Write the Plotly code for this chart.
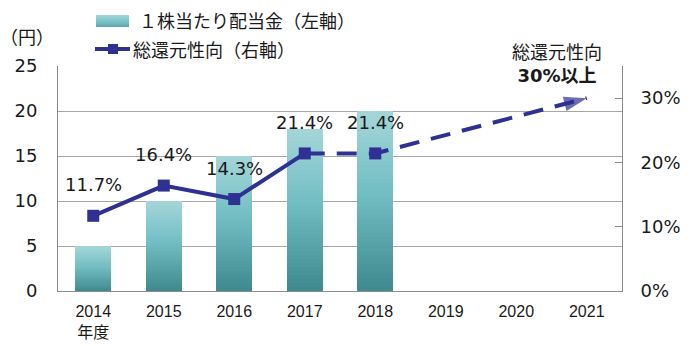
import plotly.graph_objects as go

# ---------------- data ----------------
years = ['2014', '2015', '2016', '2017', '2018', '2019', '2020', '2021']
year_ticktext = ['2014<br>年度', '2015', '2016', '2017', '2018', '2019', '2020', '2021']
dividend = [5, 10, 15, 18, 20, None, None, None]          # 円 (left axis)
payout_years = ['2014', '2015', '2016', '2017', '2018']
payout = [11.7, 16.4, 14.3, 21.4, 21.4]                  # % (right axis)
payout_labels = ['11.7%', '16.4%', '14.3%', '21.4%', '21.4%']
target_year = '2021'
target_payout = 30
left_ticks = [0, 5, 10, 15, 20, 25]
right_ticks = [0, 10, 20, 30]
right_ticktext = ['0%', '10%', '20%', '30%']

# ---------------- style ----------------
LINE_C = '#2e3192'
GRID_C = '#a6a6a6'
AXIS_C = '#8c8c8c'
JP = 'Noto Sans CJK JP'
NUMF = 'DejaVu Sans, Noto Sans CJK JP'

def lerp(c1, c2, t):
    a = [int(c1[i:i + 2], 16) for i in (1, 3, 5)]
    b = [int(c2[i:i + 2], 16) for i in (1, 3, 5)]
    return 'rgb(%d,%d,%d)' % tuple(round(a[j] + (b[j] - a[j]) * t) for j in range(3))

BOT, MID, TOP = '#3d898d', '#72bec3', '#a4d6d9'

def grad(t):
    if t < 0.55:
        return lerp(BOT, MID, t / 0.55)
    return lerp(MID, TOP, (t - 0.55) / 0.45)

fig = go.Figure()

# gradient bars: stacked slices of each bar's own value
N = 40
for k in range(N):
    fig.add_trace(go.Bar(
        x=years,
        y=[(v / N) if v is not None else None for v in dividend],
        marker=dict(color=grad((k + 0.5) / N), line=dict(width=0)),
        yaxis='y', showlegend=False, hoverinfo='skip'))

# actual payout line (solid)
fig.add_trace(go.Scatter(
    x=payout_years[:4], y=payout[:4], yaxis='y2', mode='lines',
    line=dict(color=LINE_C, width=4), showlegend=False, hoverinfo='skip'))

# dashed trend: 2017 -> 2018 -> target
fig.add_trace(go.Scatter(
    x=payout_years[3:] + [target_year], y=payout[3:] + [target_payout], yaxis='y2',
    mode='lines', line=dict(color=LINE_C, width=4, dash='20px,12px'),
    showlegend=False, hoverinfo='skip'))

# markers
fig.add_trace(go.Scatter(
    x=payout_years, y=payout, yaxis='y2', mode='markers',
    marker=dict(symbol='square', size=12, color=LINE_C),
    showlegend=False, hoverinfo='skip'))

# arrow head
fig.add_trace(go.Scatter(
    x=[payout_years[-1], target_year], y=[payout[-1], target_payout], yaxis='y2',
    mode='markers',
    marker=dict(symbol='arrow', size=[0, 24], color=LINE_C, angleref='previous',
                line=dict(width=0)),
    showlegend=False, hoverinfo='skip'))

annotations = []
for yr, v, lab in zip(payout_years, payout, payout_labels):
    annotations.append(dict(x=years.index(yr), y=v, xref='x', yref='y2', text=lab,
                            showarrow=False, yshift=31,
                            font=dict(family=NUMF, size=18, color='#1a1a1a')))

# pixel -> paper helpers (plot area 58..622 x 66..291)
L, R, T, B = 58, 622, 66, 291
def px(x):
    return (x - L) / (R - L)
def py(y):
    return (B - y) / (B - T)

annotations += [
    dict(x=px(27), y=py(36), xref='paper', yref='paper', xanchor='center', yanchor='middle',
         text='（円）', showarrow=False, font=dict(family=JP, size=18, color='#1a1a1a')),
    dict(x=px(137), y=py(20), xref='paper', yref='paper', xanchor='left', yanchor='middle',
         text='１株当たり配当金（左軸）',
         showarrow=False, font=dict(family=JP, size=18, color='#1a1a1a')),
    dict(x=px(131), y=py(49), xref='paper', yref='paper', xanchor='left', yanchor='middle',
         text='総還元性向（右軸）',
         showarrow=False, font=dict(family=JP, size=18, color='#1a1a1a')),
    dict(x=px(557), y=py(63.5), xref='paper', yref='paper', xanchor='center', yanchor='middle',
         text='総還元性向<br><b>30%以上</b>',
         showarrow=False, bgcolor='white', width=116, borderpad=2,
         font=dict(family=NUMF, size=18, color='#1a1a1a')),
]

shapes = []
# legend swatch with gradient stripes
S = 12
for k in range(S):
    y0 = 27 - (27 - 15) * k / S
    y1 = 27 - (27 - 15) * (k + 1) / S
    shapes.append(dict(type='rect', xref='paper', yref='paper', x0=px(96), x1=px(129),
                       y0=py(y0), y1=py(y1), fillcolor=grad(0.3 + 0.7 * (k + 0.5) / S),
                       line=dict(width=0), layer='above'))
shapes.append(dict(type='line', xref='paper', yref='paper', x0=px(95), x1=px(130),
                   y0=py(49), y1=py(49), line=dict(color=LINE_C, width=4)))
shapes.append(dict(type='rect', xref='paper', yref='paper', x0=px(108), x1=px(118),
                   y0=py(54), y1=py(44), fillcolor=LINE_C, line=dict(width=0)))

fig.update_layout(
    width=697, height=346, autosize=False,
    margin=dict(l=L, r=697 - R, t=T, b=346 - B),
    paper_bgcolor='white', plot_bgcolor='white',
    barmode='stack', bargap=0.49,
    showlegend=False, hovermode=False,
    annotations=annotations, shapes=shapes,
    xaxis=dict(type='category', categoryorder='array', categoryarray=years,
               range=[-0.5, len(years) - 0.5], automargin=False,
               tickvals=years, ticktext=year_ticktext,
               tickfont=dict(family='Liberation Sans, ' + JP, size=16, color='#1a1a1a'),
               showline=True, linecolor=AXIS_C, linewidth=1, ticks='', ticklabelstandoff=6,
               showgrid=False, zeroline=False),
    yaxis=dict(range=[0, 25], tickvals=left_ticks, showgrid=True, gridcolor=GRID_C, gridwidth=1,
               showline=True, linecolor=AXIS_C, linewidth=1, ticks='', zeroline=False,
               automargin=False,
               tickfont=dict(family=NUMF, size=18, color='#1a1a1a'), ticklabelstandoff=16),
    yaxis2=dict(range=[0, 35], overlaying='y', side='right', tickvals=right_ticks,
                ticktext=right_ticktext, showgrid=False, zeroline=False, automargin=False,
                showline=True, linecolor=AXIS_C, linewidth=1,
                ticks='inside', ticklen=7, tickcolor=AXIS_C,
                tickfont=dict(family=NUMF, size=18, color='#1a1a1a'), ticklabelstandoff=14),
)

fig.write_html('out.html')
